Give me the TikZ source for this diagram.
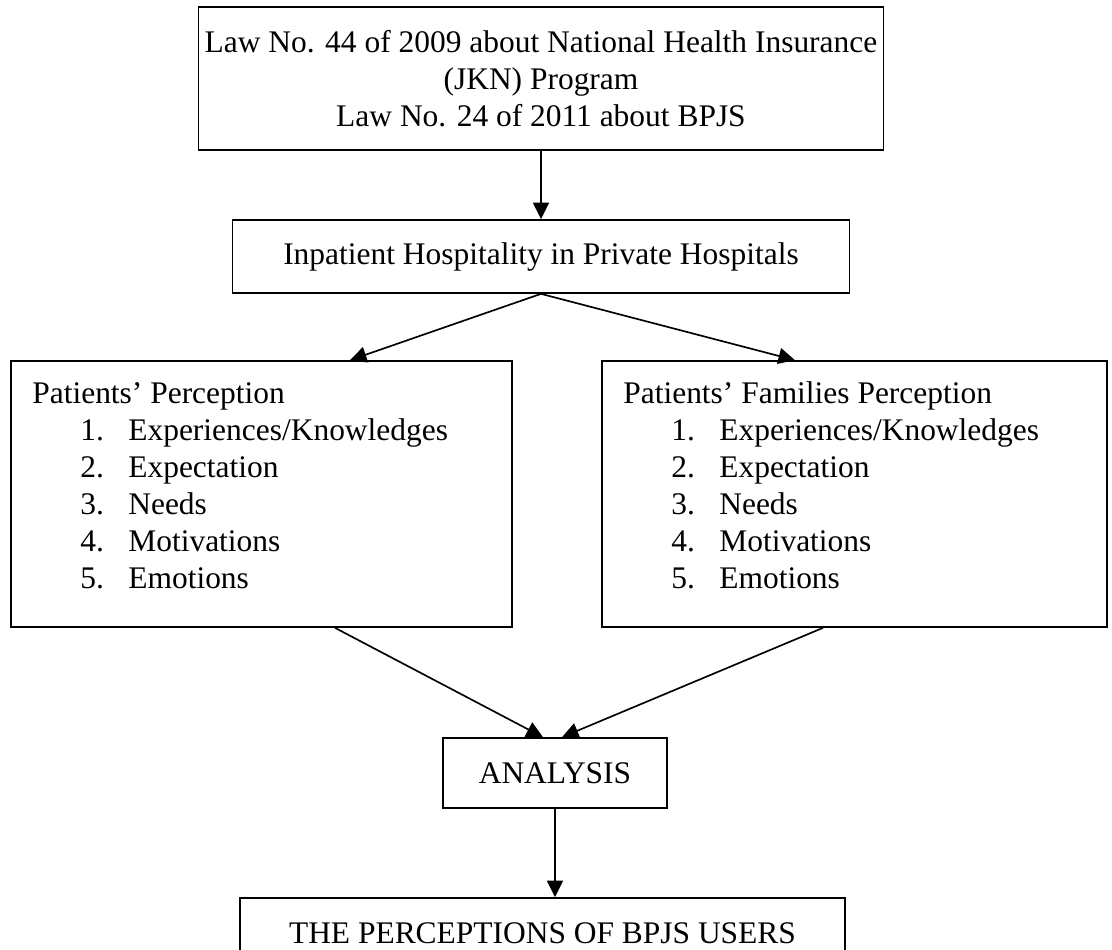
\documentclass[tikz,border=0pt]{standalone}
\usepackage{fontspec}
\setmainfont{Liberation Serif}
\usetikzlibrary{arrows.meta}

\begin{document}
\begin{tikzpicture}[
  font=\fontsize{17.9}{21.1}\selectfont,
  box/.style={draw,line width=0.95pt,inner sep=0pt,align=center},
  arr/.style={-{Triangle[length=0.33cm,width=0.32cm]},line width=0.95pt},
  txt/.style={anchor=base west,inner sep=0pt}]
  \useasboundingbox (0,0) rectangle (22.24,-18.98);
  \clip (0,0) rectangle (22.24,-18.98);
  \node[box,minimum width=13.7cm,minimum height=2.86cm] (law) at (10.82,-1.57)
    {Law No. 44 of 2009 about National Health Insurance\\(JKN) Program\\Law No. 24 of 2011 about BPJS};
  \node[box,minimum width=12.34cm,minimum height=1.46cm] (hosp) at (10.82,-5.13)
    {Inpatient Hospitality in Private Hospitals};
  \node[box,minimum width=10.02cm,minimum height=5.32cm] (patient) at (5.23,-9.88) {};
  \node[box,minimum width=10.1cm,minimum height=5.32cm] (family) at (17.09,-9.88) {};
  \node[box,minimum width=4.48cm,minimum height=1.4cm] (analysis) at (11.1,-15.46) {ANALYSIS};
  \node[box,minimum width=12.1cm,minimum height=1.4cm] (users) at (10.85,-18.66)
    {THE PERCEPTIONS OF BPJS USERS};
  % perception lists
  \node[txt] (phead) at (0.64,-8.07) {Patients' Perception};
  \node[txt] (fhead) at (12.46,-8.07) {Patients' Families Perception};
  \foreach \t [count=\i] in {Experiences/Knowledges,Expectation,Needs,Motivations,Emotions} {
    \node[txt] (pnum\i) at (1.6,-8.07-0.74*\i) {\i.};
    \node[txt] (pitem\i) at (2.56,-8.07-0.74*\i) {\t};
    \node[txt] (fnum\i) at (13.42,-8.07-0.74*\i) {\i.};
    \node[txt] (fitem\i) at (14.38,-8.07-0.74*\i) {\t};
  }
  % connectors
  \draw[arr] (law.south) -- (hosp.north);
  \draw[arr] (hosp.south) -- ([xshift=1.77cm]patient.north);
  \draw[arr] (hosp.south) -- ([xshift=-1.19cm]family.north);
  \draw[arr] ([xshift=1.47cm]patient.south) -- ([xshift=-0.24cm]analysis.north);
  \draw[arr] ([xshift=-0.63cm]family.south) -- ([xshift=0.14cm]analysis.north);
  \draw[arr] (analysis.south) -- (analysis.south |- users.north);
\end{tikzpicture}
\end{document}
